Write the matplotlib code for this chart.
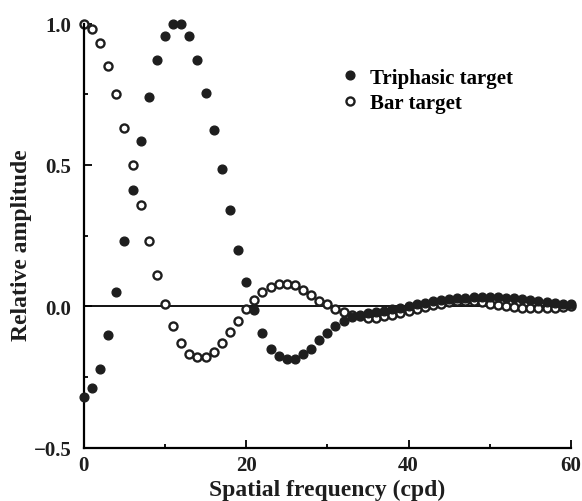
import numpy as np
import matplotlib
matplotlib.use("Agg")
import matplotlib.pyplot as plt
from matplotlib.ticker import MultipleLocator

# spatial frequency (cpd), one point per integer frequency
freq = np.arange(0, 61)

# Triphasic target (filled circles)
triphasic = [
    -0.32, -0.29, -0.22, -0.10, 0.05, 0.23, 0.41, 0.585, 0.74, 0.87,
    0.955, 0.997, 0.997, 0.955, 0.87, 0.755, 0.624, 0.486, 0.34, 0.20,
    0.085, -0.013, -0.095, -0.15, -0.175, -0.185, -0.185, -0.17, -0.15, -0.12,
    -0.095, -0.07, -0.05, -0.038, -0.03, -0.025, -0.02, -0.015, -0.01, -0.005,
    0.0, 0.007, 0.013, 0.018, 0.022, 0.026, 0.029, 0.031, 0.033, 0.034,
    0.034, 0.033, 0.031, 0.028, 0.025, 0.021, 0.018, 0.015, 0.012, 0.01,
    0.008,
]

# Bar target (open circles)
bar = [
    1.0, 0.98, 0.93, 0.85, 0.75, 0.63, 0.50, 0.36, 0.23, 0.11,
    0.01, -0.07, -0.13, -0.17, -0.18, -0.18, -0.16, -0.13, -0.09, -0.05,
    -0.01, 0.022, 0.05, 0.068, 0.08, 0.08, 0.075, 0.057, 0.04, 0.02,
    0.01, -0.01, -0.02, -0.03, -0.035, -0.04, -0.04, -0.035, -0.03, -0.025,
    -0.015, -0.008, -0.002, 0.004, 0.01, 0.015, 0.018, 0.019, 0.018, 0.015,
    0.01, 0.005, 0.0, -0.003, -0.005, -0.006, -0.006, -0.005, -0.004, -0.002,
    0.0,
]

plt.rcParams['font.family'] = ['Liberation Serif', 'DejaVu Serif']
plt.rcParams['font.weight'] = 'bold'

fig = plt.figure(figsize=(5.82, 5.02), dpi=100)
ax = fig.add_axes([0.144, 0.106, 0.837, 0.845])

# zero line
ax.plot([0, 60], [0, 0], color='black', lw=1.3, zorder=1)

ax.plot(freq, triphasic, 'o', color='#1e1e1e', ms=6.3, mec='#1e1e1e',
        label='Triphasic target', zorder=3, clip_on=False)
ax.plot(freq, bar, 'o', mfc='white', mec='#1e1e1e', ms=5.8, mew=1.7,
        label='Bar target', zorder=2, clip_on=False)

ax.set_xlim(0, 60)
ax.set_ylim(-0.5, 1.0)
ax.xaxis.set_major_locator(MultipleLocator(20))
ax.xaxis.set_minor_locator(MultipleLocator(10))
ax.yaxis.set_major_locator(MultipleLocator(0.5))
ax.yaxis.set_minor_locator(MultipleLocator(0.25))
ax.tick_params(which='both', direction='in', width=1.3, labelsize=15,
               labelcolor='#1e1e1e')
ax.tick_params(which='major', length=6)
ax.tick_params(which='minor', length=3)
ax.tick_params(axis='y', pad=9)
ax.tick_params(axis='x', pad=5)
ax.yaxis.set_major_formatter(plt.FuncFormatter(lambda v, p: f"{v:.1f}".replace('-', '\u2212')))

for s in ['top', 'right']:
    ax.spines[s].set_visible(False)
for s in ['left', 'bottom']:
    ax.spines[s].set_linewidth(1.6)

ax.set_xlabel('Spatial frequency (cpd)', fontsize=17, fontweight='bold',
              color='#1e1e1e', labelpad=3)
ax.set_ylabel('Relative amplitude', fontsize=17, fontweight='bold',
              color='#1e1e1e')
ax.yaxis.set_label_coords(-0.107, 0.48)

ax.legend(loc='center left', bbox_to_anchor=(0.49, 0.843), frameon=False,
          handlelength=0.8, handletextpad=0.6, labelspacing=0.25,
          prop={'weight': 'bold', 'size': 15})

fig.savefig('out.png', dpi=100)
